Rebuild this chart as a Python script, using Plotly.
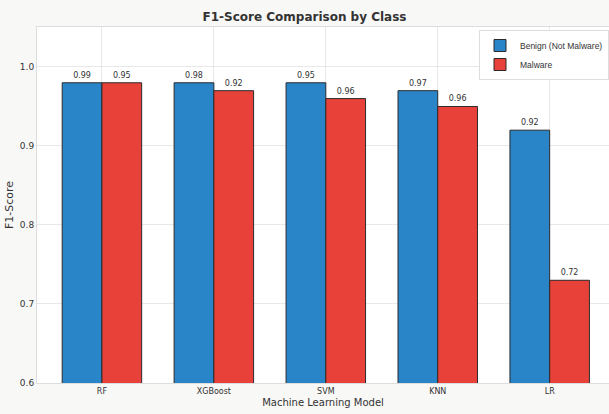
import plotly.graph_objects as go

models = ["RF", "XGBoost", "SVM", "KNN", "LR"]
benign_vals = [0.98, 0.98, 0.98, 0.97, 0.92]
malware_vals = [0.98, 0.97, 0.96, 0.95, 0.73]
benign_labels = ["0.99", "0.98", "0.95", "0.97", "0.92"]
malware_labels = ["0.95", "0.92", "0.96", "0.96", "0.72"]
y_ticks = [0.6, 0.7, 0.8, 0.9, 1.0]
y_tick_text = ["0.6", "0.7", "0.8", "0.9", "1.0"]

FONT = "DejaVu Sans"

fig = go.Figure()
fig.add_trace(go.Bar(
    x=models, y=benign_vals, name="Benign (Not Malware)",
    marker=dict(color="#2a85c8", line=dict(color="#2b2b2b", width=1)),
    text=benign_labels, textposition="outside", cliponaxis=False,
    textfont=dict(size=8, color="#333333", family=FONT),
))
fig.add_trace(go.Bar(
    x=models, y=malware_vals, name="Malware",
    marker=dict(color="#e8413a", line=dict(color="#2b2b2b", width=1)),
    text=malware_labels, textposition="outside", cliponaxis=False,
    textfont=dict(size=8, color="#333333", family=FONT),
))

fig.update_layout(
    width=609, height=414,
    margin=dict(l=37, r=0, t=27, b=31, autoexpand=False),
    paper_bgcolor="#f8f8f7",
    plot_bgcolor="#ffffff",
    barmode="group", bargap=0.29, bargroupgap=0,
    font=dict(family=FONT, size=9, color="#333333"),
    title=dict(text="<b>F1-Score Comparison by Class</b>", x=0.5, xanchor="center",
               y=1 - 17/414, yanchor="middle", font=dict(size=12, color="#333333", family=FONT)),
    legend=dict(x=1, xanchor="right", y=1 - 3/356, yanchor="top",
                bgcolor="rgba(255,255,255,0.9)", bordercolor="#dddddd", borderwidth=1,
                font=dict(size=8.5, family="Liberation Sans", color="#333333"), tracegroupgap=0),
)
fig.update_xaxes(
    range=[-0.58, 4.53], showgrid=True, gridcolor="#e8e8e8", gridwidth=1,
    showline=True, linecolor="#dddddd", mirror=True,
    tickfont=dict(size=8, family=FONT, color="#333333"),
    title=dict(text="Machine Learning Model", font=dict(size=10, family=FONT, color="#333333"), standoff=4),
    ticks="", ticklen=0,
)
fig.update_yaxes(
    range=[0.6, 1.0506], tickvals=y_ticks, ticktext=y_tick_text,
    showgrid=True, gridcolor="#e8e8e8", gridwidth=1,
    showline=True, linecolor="#dddddd", mirror=True, zeroline=False,
    tickfont=dict(size=9, family=FONT, color="#333333"),
    title=dict(text="F1-Score", font=dict(size=11, family=FONT, color="#333333"), standoff=4),
    ticks="",
)

fig.write_html("out.html")
